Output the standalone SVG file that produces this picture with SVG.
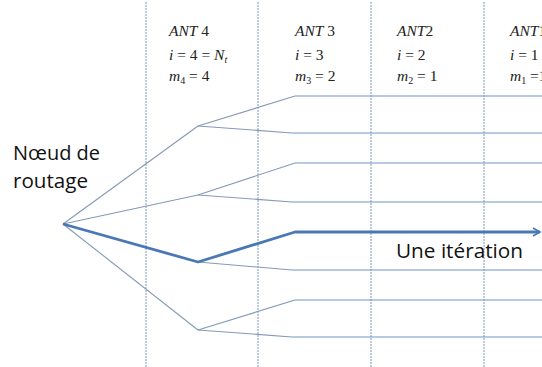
<svg xmlns="http://www.w3.org/2000/svg" width="542" height="367" viewBox="0 0 542 367">
<style>
.grid{stroke:#7f96bb;stroke-width:1;stroke-dasharray:2 1;fill:none}
.thin{stroke:#7096c8;stroke-width:1.1;fill:none}
.diag{stroke:#8599b8;stroke-width:1.1;fill:none}
.thick{stroke:#4a78b5;stroke-width:2.8;fill:none;stroke-linejoin:round}
.lbl{font-family:"Open Sans","Liberation Sans",sans-serif;font-size:20px;fill:#111}
.m{font-family:"Liberation Serif","DejaVu Serif",serif;font-size:15.5px;fill:#222}
.it{font-style:italic}
</style>
<defs>
<marker id="arr" markerWidth="10" markerHeight="10" refX="8" refY="5" orient="auto" markerUnits="userSpaceOnUse">
<path d="M1,1 L8,5 L1,9" fill="none" stroke="#4a78b5" stroke-width="1.6"/>
</marker>
</defs>
<rect width="542" height="367" fill="#fff"/>
<g id="grid">
<line class="grid" x1="146" y1="2" x2="146" y2="367"/>
<line class="grid" x1="258" y1="2" x2="258" y2="367"/>
<line class="grid" x1="371" y1="2" x2="371" y2="367"/>
<line class="grid" x1="484" y1="2" x2="484" y2="367"/>
</g>
<g id="connectors">
<polyline class="diag" points="63,224 198,126"/>
<polyline class="diag" points="63,224 198,195"/>
<polyline class="diag" points="63,224 198,330"/>
<polyline class="diag" points="198,126 295,96"/>
<polyline class="diag" points="198,126 292,133"/>
<polyline class="diag" points="198,195 295,163"/>
<polyline class="diag" points="198,195 292,202"/>
<polyline class="diag" points="198,262 292,270"/>
<polyline class="diag" points="198,330 295,300"/>
<polyline class="diag" points="198,330 292,337"/>
<line class="thin" x1="295" y1="96" x2="542" y2="96"/>
<line class="thin" x1="292" y1="133" x2="542" y2="133"/>
<line class="thin" x1="295" y1="163" x2="542" y2="163"/>
<line class="thin" x1="292" y1="202" x2="542" y2="202"/>
<line class="thin" x1="292" y1="270" x2="542" y2="270"/>
<line class="thin" x1="295" y1="300" x2="542" y2="300"/>
<line class="thin" x1="292" y1="337" x2="542" y2="337"/>
<polyline class="thick" points="63,224 198,262 295,232 540,232" marker-end="url(#arr)"/>
</g>
<g id="node-routage">
<text class="lbl" x="13" y="160" textLength="87" lengthAdjust="spacingAndGlyphs">Nœud de</text>
<text class="lbl" x="13" y="188" textLength="75" lengthAdjust="spacingAndGlyphs">routage</text>
</g>
<g id="label-iteration">
<text class="lbl" x="396" y="258" textLength="127" lengthAdjust="spacingAndGlyphs">Une itération</text>
</g>
<g id="ant4">
<text class="m" x="169" y="36"><tspan class="it">ANT</tspan> 4</text>
<text class="m" x="169" y="60"><tspan class="it">i</tspan> = 4 = <tspan class="it">N</tspan><tspan class="it" font-size="10" dy="3">t</tspan></text>
<text class="m" x="169" y="81"><tspan class="it">m</tspan><tspan font-size="10" dy="3">4</tspan><tspan dy="-3"> = 4</tspan></text>
</g>
<g id="ant3">
<text class="m" x="295" y="36"><tspan class="it">ANT</tspan> 3</text>
<text class="m" x="295" y="60"><tspan class="it">i</tspan> = 3</text>
<text class="m" x="295" y="81"><tspan class="it">m</tspan><tspan font-size="10" dy="3">3</tspan><tspan dy="-3"> = 2</tspan></text>
</g>
<g id="ant2">
<text class="m" x="397" y="36"><tspan class="it">ANT</tspan>2</text>
<text class="m" x="397" y="60"><tspan class="it">i</tspan> = 2</text>
<text class="m" x="397" y="81"><tspan class="it">m</tspan><tspan font-size="10" dy="3">2</tspan><tspan dy="-3"> = 1</tspan></text>
</g>
<g id="ant1">
<text class="m" x="510" y="36"><tspan class="it">ANT</tspan>1</text>
<text class="m" x="510" y="60"><tspan class="it">i</tspan> = 1</text>
<text class="m" x="510" y="81"><tspan class="it">m</tspan><tspan font-size="10" dy="3">1</tspan><tspan dy="-3"> =1</tspan></text>
</g>
</svg>
